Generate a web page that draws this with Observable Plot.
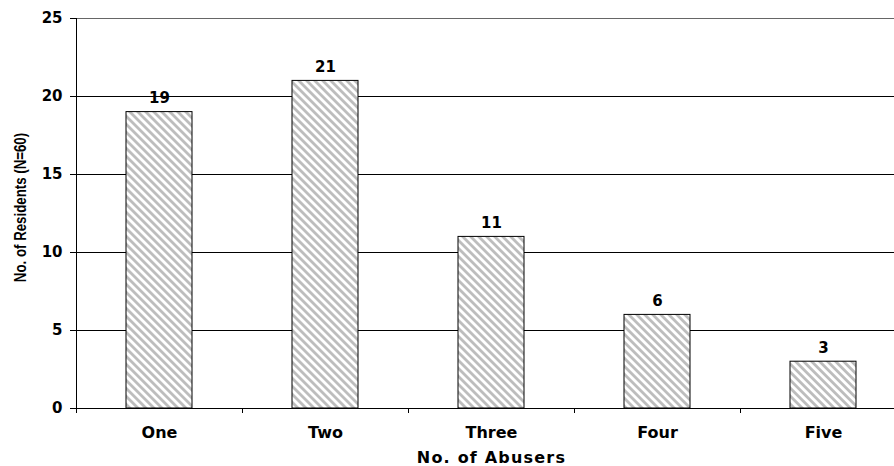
<!DOCTYPE html>
<html>
<head>
<meta charset="utf-8">
<script src="https://cdn.jsdelivr.net/npm/d3@7"></script>
<script src="https://cdn.jsdelivr.net/npm/@observablehq/plot@0.6"></script>
<style>
  html, body { margin: 0; padding: 0; background: #fff; overflow: hidden; width: 894px; height: 466px; }
  #chart svg { max-width: none !important; }
</style>
</head>
<body>
<div id="chart"></div>
<script>
// Number of abusers reported per resident
const categories = ["One", "Two", "Three", "Four", "Five"];
const residents = [19, 21, 11, 6, 3];
const yTicks = [0, 5, 10, 15, 20, 25];
const xTitle = "No. of Abusers";
const yTitle = "No. of Residents (N=60)";

const data = categories.map((c, i) => ({abusers: c, residents: residents[i]}));

const width = 906, height = 466;
const marginLeft = 76, marginRight = 0, marginTop = 18, marginBottom = 58;
// half a band step: shifts category ticks onto the band boundaries
const halfStep = (width - marginLeft - marginRight) / categories.length / 2;

const chart = Plot.plot({
  width, height, marginLeft, marginRight, marginTop, marginBottom,
  style: {
    fontFamily: "'DejaVu Sans', sans-serif",
    fontWeight: "bold",
    fontSize: "15px",
    color: "#000",
    background: "#fff",
    overflow: "visible"
  },
  x: {domain: categories, paddingInner: 0.6, paddingOuter: 0.3, label: null},
  y: {domain: [0, 25], label: null},
  marks: [
    Plot.ruleY(yTicks.filter(v => v > 0 && v < 25), {stroke: "#000", strokeWidth: 1}),
    Plot.ruleY(yTicks.filter(v => v === 25), {stroke: "#666", strokeWidth: 1}),
    Plot.barY(data, {x: "abusers", y: "residents", fill: "url(#hatch)", stroke: "#000", strokeWidth: 1}),
    Plot.text(data, {x: "abusers", y: "residents", text: d => String(d.residents), dy: -14, fontSize: 15}),
    Plot.axisY({ticks: yTicks, tickSize: 6, tickPadding: 8, label: null, fontSize: 15}),
    // vertical axis line on the left edge of the first band
    Plot.ruleX([categories[0]], {dx: -halfStep, stroke: "#000"}),
    Plot.axisX({tickSize: 0, tickPadding: 18, label: null, fontSize: 16}),
    Plot.axisX({text: null, tickSize: 5, dx: -halfStep, label: null}),
    Plot.ruleY([0], {stroke: "#000"}),
    Plot.text([xTitle], {frameAnchor: "bottom", dy: 54, fontSize: 16, lineAnchor: "bottom"}),
    Plot.text([yTitle], {frameAnchor: "left", textAnchor: "middle", dx: -56, dy: -6, rotate: -90,
      fontSize: 16, fontFamily: "'Liberation Sans', Arial, sans-serif"})
  ]
});
chart.style.maxWidth = "none";

// diagonal hatch fill for the bars
const defs = d3.select(chart).insert("defs", ":first-child");
const pat = defs.append("pattern")
  .attr("id", "hatch")
  .attr("patternUnits", "userSpaceOnUse")
  .attr("width", 5.66)
  .attr("height", 5.66)
  .attr("patternTransform", "rotate(-45)");
pat.append("rect").attr("width", 5.66).attr("height", 5.66).attr("fill", "#fff");
pat.append("rect").attr("width", 2.8).attr("height", 5.66).attr("fill", "#bdbdbd");

d3.select(chart).selectAll("text")
  .filter(function() { return this.textContent === xTitle; })
  .style("letter-spacing", "1.2px");

// condensed vertical title
d3.select(chart).selectAll("text")
  .filter(function() { return this.textContent === yTitle; })
  .attr("transform", function() { return (this.getAttribute("transform") || "") + " scale(0.83,1)"; });

document.getElementById("chart").appendChild(chart);
</script>
</body>
</html>
